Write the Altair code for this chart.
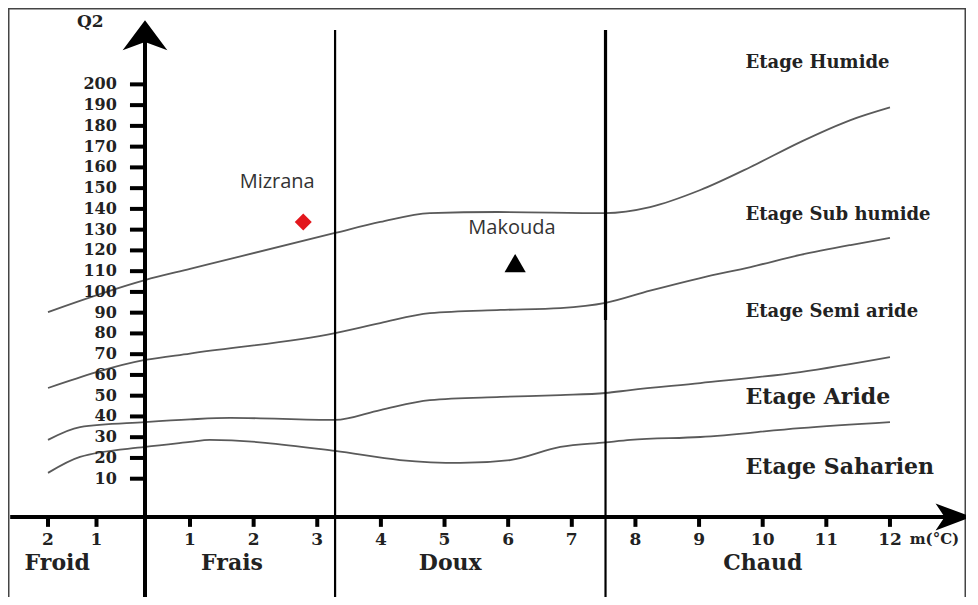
import altair as alt
import pandas as pd

# ---------------- data ----------------
# Emberger climagram boundaries: m (°C) vs Q2
m_c1 = [-2, 0, 1, 3.28, 3.99, 4.77, 5.83, 7.53, 8.23, 9.02, 9.81, 10.59, 11.38, 12]
q_c1 = [90.3, 105.7, 111.1, 128.4, 133.7, 138.0, 138.5, 138.0, 140.9, 149.1, 160.2, 172.2, 182.8, 188.9]

m_c2 = [-2, 0, 1, 3.28, 3.99, 4.77, 5.88, 6.82, 7.53, 8.23, 9.02, 9.81, 10.59, 11.38, 12]
q_c2 = [53.7, 67.2, 70.3, 80.2, 85.0, 89.8, 91.3, 92.2, 94.7, 100.6, 106.7, 112.0, 117.8, 122.6, 126.0]

m_c3 = [-2, -1.34, 0, 1, 1.63, 3.28, 3.99, 4.77, 5.88, 6.82, 7.53, 7.92, 9.02, 10.59, 12]
q_c3 = [28.7, 34.9, 37.3, 38.6, 39.3, 38.3, 43.1, 47.9, 49.4, 50.3, 51.3, 52.7, 56.1, 61.4, 68.6]

m_c4 = [-2, -1.34, 0, 1, 1.31, 3.28, 4.30, 5.25, 6.03, 6.82, 7.53, 7.92, 9.02, 10.59, 12]
q_c4 = [12.8, 20.5, 25.3, 27.7, 28.7, 23.4, 19.0, 17.6, 19.0, 25.3, 27.5, 28.7, 30.1, 34.4, 37.3]

curve_names = ["Humide/Sub humide", "Sub humide/Semi aride", "Semi aride/Aride", "Aride/Saharien"]

# stations
station_names = ["Mizrana", "Makouda"]
station_m = [2.78, 6.11]
station_q2 = [133.7, 113.9]
station_label_m = [2.37, 6.06]
station_label_q2 = [152.9, 130.8]

# bioclimatic stage labels
etage_names = ["Etage Humide", "Etage Sub humide", "Etage Semi aride", "Etage Aride", "Etage Saharien"]
etage_q2 = [210.3, 137.0, 90.3, 49.4, 15.7]
etage_m = 9.73

# winter variants along m
zone_names = ["Froid", "Frais", "Doux", "Chaud"]
zone_m = [-1.81, 1.66, 5.09, 10.0]
zone_q2 = -30.6
separators_m = [3.28, 7.53]
separator_top = 226.2
separator_break = 86.5   # the right separator is heavier above this Q2

x_ticks = [-2, -1, 1, 2, 3, 4, 5, 6, 7, 8, 9, 10, 11, 12]
y_ticks = list(range(10, 201, 10))

x_axis_q2 = -8.43
x_tick_end_q2 = -13.2
x_label_q2 = -19.5
x_axis_from, x_axis_to = -2.78, 12.9
y_axis_top = 222
y_tick_start_m = -0.31
y_label_m = -0.58
q2_min, q2_max = -47.0, 236.8
q2_floor = -51.0

# ---------------- tables ----------------
rows = []
for name, ms, qs in zip(curve_names, [m_c1, m_c2, m_c3, m_c4], [q_c1, q_c2, q_c3, q_c4]):
    for i, (a, b) in enumerate(zip(ms, qs)):
        rows.append({"curve": name, "m": a, "q2": b, "order": i})
curves_df = pd.DataFrame(rows)

stations_df = pd.DataFrame({"name": station_names, "m": station_m, "q2": station_q2,
                            "lm": station_label_m, "lq": station_label_q2})
etage_df = pd.DataFrame({"label": etage_names, "q2": etage_q2, "m": [etage_m] * len(etage_names)})
zone_df = pd.DataFrame({"label": zone_names, "m": zone_m, "q2": [zone_q2] * len(zone_names)})
sep_df = pd.DataFrame({"m": separators_m, "top": [separator_top] * 2, "bottom": [q2_floor] * 2})
sep_heavy_df = pd.DataFrame({"m": [separators_m[1]], "top": [separator_top], "bottom": [separator_break]})
xt_df = pd.DataFrame({"m": x_ticks, "label": [str(abs(v)) for v in x_ticks],
                      "a": [x_axis_q2] * len(x_ticks), "b": [x_tick_end_q2] * len(x_ticks),
                      "lq": [x_label_q2] * len(x_ticks)})
yt_df = pd.DataFrame({"q2": y_ticks, "label": [str(v) for v in y_ticks],
                      "a": [y_tick_start_m] * len(y_ticks), "b": [0] * len(y_ticks),
                      "lm": [y_label_m] * len(y_ticks)})

SERIF = "DejaVu Serif"
INK = "#222222"
W, H = 958, 589

xs = alt.Scale(domain=[-2.825, 0, 1, 13.195], range=[0, 137, 182, W], nice=False, zero=False)
ys = alt.Scale(domain=[q2_min, q2_max], nice=False, zero=False)

X = lambda f, **k: alt.X(f, scale=xs, axis=None, **k)
Y = lambda f, **k: alt.Y(f, scale=ys, axis=None, **k)

# frame (left, top, right; open at the bottom like the scanned figure)
frame = alt.layer(
    alt.Chart().mark_rule(color="#444444", strokeWidth=1.5).encode(x=alt.value(0.75), y=alt.value(0), y2=alt.value(H)),
    alt.Chart().mark_rule(color="#444444", strokeWidth=1.5).encode(x=alt.value(0), x2=alt.value(W), y=alt.value(0.75)),
    alt.Chart().mark_rule(color="#444444", strokeWidth=1.5).encode(x=alt.value(W - 0.75), y=alt.value(0), y2=alt.value(H)),
)

lines = alt.Chart(curves_df).mark_line(color="#5a5a5a", strokeWidth=1.8, interpolate="monotone").encode(
    x=X("m:Q"), y=Y("q2:Q"), detail="curve:N", order="order:Q")

seps = alt.Chart(sep_df).mark_rule(color="black", strokeWidth=2.2).encode(
    x=X("m:Q"), y=Y("top:Q"), y2="bottom:Q")
seps_heavy = alt.Chart(sep_heavy_df).mark_rule(color="black", strokeWidth=3.2).encode(
    x=X("m:Q"), y=Y("top:Q"), y2="bottom:Q")

haxis = alt.Chart(pd.DataFrame({"a": [x_axis_from], "b": [x_axis_to], "q": [x_axis_q2]})).mark_rule(
    color="black", strokeWidth=4).encode(x=X("a:Q"), x2="b:Q", y=Y("q:Q"))
vaxis = alt.Chart(pd.DataFrame({"m": [0], "a": [q2_floor], "b": [y_axis_top]})).mark_rule(
    color="black", strokeWidth=4).encode(x=X("m:Q"), y=Y("a:Q"), y2="b:Q")

xticks = alt.Chart(xt_df).mark_rule(color="black", strokeWidth=4).encode(
    x=X("m:Q"), y=Y("a:Q"), y2="b:Q")
xlabels = alt.Chart(xt_df).mark_text(font=SERIF, fontWeight="bold", fontSize=17, color=INK,
                                     align="center", baseline="middle").encode(
    x=X("m:Q"), y=Y("lq:Q"), text="label:N")
yticks = alt.Chart(yt_df).mark_rule(color="black", strokeWidth=4).encode(
    x=X("a:Q"), x2="b:Q", y=Y("q2:Q"))
ylabels = alt.Chart(yt_df).mark_text(font=SERIF, fontWeight="bold", fontSize=16, color=INK,
                                     align="right", baseline="middle").encode(
    x=X("lm:Q"), y=Y("q2:Q"), text="label:N")

up_arrow = alt.Chart(pd.DataFrame({"m": [0], "q": [223.7]})).mark_point(
    shape="M0,-0.67 L1,0.67 L0,0.3 L-1,0.67 Z", filled=True, color="black", opacity=1, size=2000
).encode(x=X("m:Q"), y=Y("q:Q"))
right_arrow = alt.Chart(pd.DataFrame({"m": [13.0], "q": [x_axis_q2]})).mark_point(
    shape="M1,0 L-1,-0.75 L-0.5,0 L-1,0.75 Z", filled=True, color="black", opacity=1, size=1300
).encode(x=X("m:Q"), y=Y("q:Q"))

miz = alt.Chart(stations_df.iloc[[0]]).mark_point(shape="diamond", filled=True, color="#e3171d",
                                                   opacity=1, size=290).encode(x=X("m:Q"), y=Y("q2:Q"))
mak = alt.Chart(stations_df.iloc[[1]]).mark_point(shape="triangle-up", filled=True, color="black",
                                                   opacity=1, size=450).encode(x=X("m:Q"), y=Y("q2:Q"))
st_labels = alt.Chart(stations_df).mark_text(font="Open Sans", fontSize=20, color="#333333",
                                             align="center", baseline="middle").encode(
    x=X("lm:Q"), y=Y("lq:Q"), text="name:N")

et_small = alt.Chart(etage_df.iloc[:3]).mark_text(font=SERIF, fontWeight="bold", fontSize=18,
                                                  color=INK, align="left", baseline="middle").encode(
    x=X("m:Q"), y=Y("q2:Q"), text="label:N")
et_big = alt.Chart(etage_df.iloc[3:]).mark_text(font=SERIF, fontWeight="bold", fontSize=22,
                                                color=INK, align="left", baseline="middle").encode(
    x=X("m:Q"), y=Y("q2:Q"), text="label:N")

zones = alt.Chart(zone_df).mark_text(font=SERIF, fontWeight="bold", fontSize=22, color=INK,
                                     align="center", baseline="middle").encode(
    x=X("m:Q"), y=Y("q2:Q"), text="label:N")

q2_label = alt.Chart(pd.DataFrame({"t": ["Q2"], "m": [-1.13], "q": [230]})).mark_text(
    font=SERIF, fontWeight="bold", fontSize=17, color=INK, align="center", baseline="middle").encode(
    x=X("m:Q"), y=Y("q:Q"), text="t:N")
m_label = alt.Chart(pd.DataFrame({"t": ["m(°C)"], "m": [12.31], "q": [-19.0]})).mark_text(
    font=SERIF, fontWeight="bold", fontSize=15, color=INK, align="left", baseline="middle").encode(
    x=X("m:Q"), y=Y("q:Q"), text="t:N")

chart = alt.layer(frame, lines, seps, seps_heavy, haxis, vaxis, xticks, yticks, xlabels, ylabels,
                  up_arrow, right_arrow, miz, mak, st_labels, et_small, et_big, zones, q2_label,
                  m_label).properties(
    width=W, height=H, padding=0, background="white",
    autosize=alt.AutoSizeParams(type="none")
).configure_view(stroke=None)

chart.save("out.html", embed_options={"renderer": "svg", "actions": False})
